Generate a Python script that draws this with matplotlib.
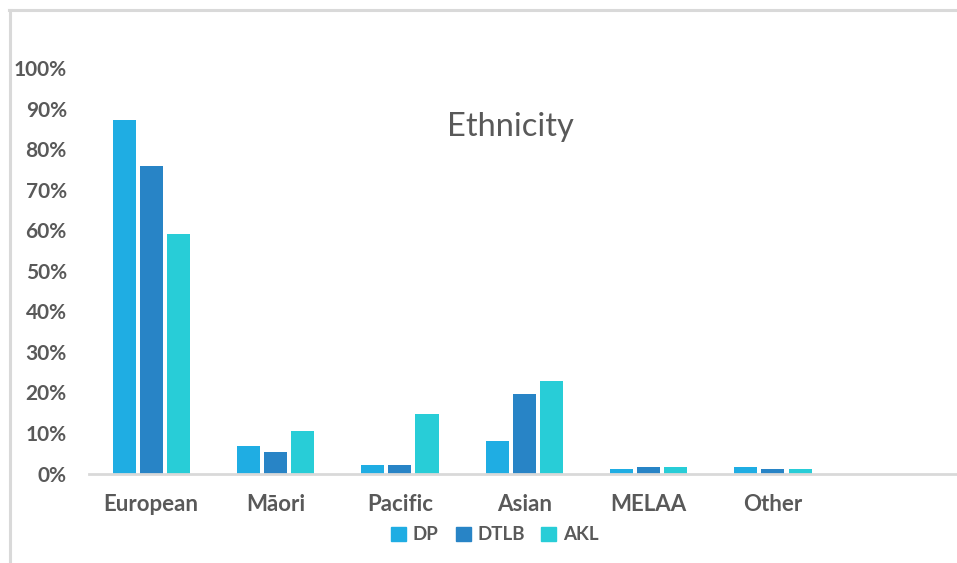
import matplotlib
matplotlib.use('Agg')
import matplotlib.pyplot as plt
import numpy as np
from matplotlib.lines import Line2D
from matplotlib.patches import Patch

plt.rcParams['font.family'] = ['Lato', 'DejaVu Sans']

# Ethnicity shares (fraction)
categories = ['European', 'Māori', 'Pacific', 'Asian', 'MELAA', 'Other']
dp = [0.872, 0.067, 0.022, 0.079, 0.012, 0.015]
dtlb = [0.758, 0.052, 0.020, 0.195, 0.015, 0.012]
akl = [0.590, 0.104, 0.146, 0.227, 0.015, 0.010]
series_names = ['DP', 'DTLB', 'AKL']
colors = ['#1FADE3', '#2884C6', '#28CDD7']
ticks = [0, 0.1, 0.2, 0.3, 0.4, 0.5, 0.6, 0.7, 0.8, 0.9, 1.0]
tick_labels = ['0%', '10%', '20%', '30%', '40%', '50%', '60%', '70%', '80%', '90%', '100%']

text_col = '#595959'
W, H = 957, 563
fig = plt.figure(figsize=(W / 100, H / 100), dpi=100)

# chart frame (left + top border only visible)
fig.add_artist(Line2D([9.5 / W, 9.5 / W], [0, 1 - 9.5 / H], transform=fig.transFigure,
                      color='#d9d9d9', lw=2.2))
fig.add_artist(Line2D([8.5 / W, 1], [1 - 9.5 / H, 1 - 9.5 / H], transform=fig.transFigure,
                      color='#d9d9d9', lw=2.2))

ax = fig.add_axes([89 / W, (H - 473.5) / H, (W - 89) / W, (473.5 - 68) / H])

x = np.arange(len(categories))
bw = 0.185
step = 0.218
for i, (vals, c) in enumerate(zip([dp, dtlb, akl], colors)):
    ax.bar(x + (i - 1) * step, vals, width=bw, color=c, zorder=2)

ax.set_xlim(-0.5, 6.48)
ax.set_ylim(0, 1.0)
ax.set_yticks(ticks)
ax.set_yticklabels(tick_labels)
ax.set_xticks(x)
ax.set_xticklabels(categories)
for s in ['top', 'right', 'left']:
    ax.spines[s].set_visible(False)
ax.spines['bottom'].set_color('#d9d9d9')
ax.spines['bottom'].set_linewidth(2)
ax.tick_params(axis='both', length=0, colors=text_col)
ax.tick_params(axis='y', pad=16, labelsize=15)
ax.tick_params(axis='x', pad=15, labelsize=16)
for lab in ax.get_yticklabels() + ax.get_xticklabels():
    lab.set_fontweight('bold')
    lab.set_color(text_col)

fig.text(510 / W, 1 - 127 / H, 'Ethnicity', ha='center', va='center',
         fontsize=23.5, color=text_col)

handles = [Patch(color=c, label=n) for c, n in zip(colors, series_names)]
leg = fig.legend(handles=handles, loc='center', bbox_to_anchor=(495 / W, 1 - 535 / H),
                 ncol=3, frameon=False, handlelength=0.8, handleheight=0.8,
                 handletextpad=0.35, columnspacing=0.9,
                 prop={'size': 13.5, 'weight': 'bold'})
for t in leg.get_texts():
    t.set_color(text_col)

fig.savefig('out.png', dpi=100)
